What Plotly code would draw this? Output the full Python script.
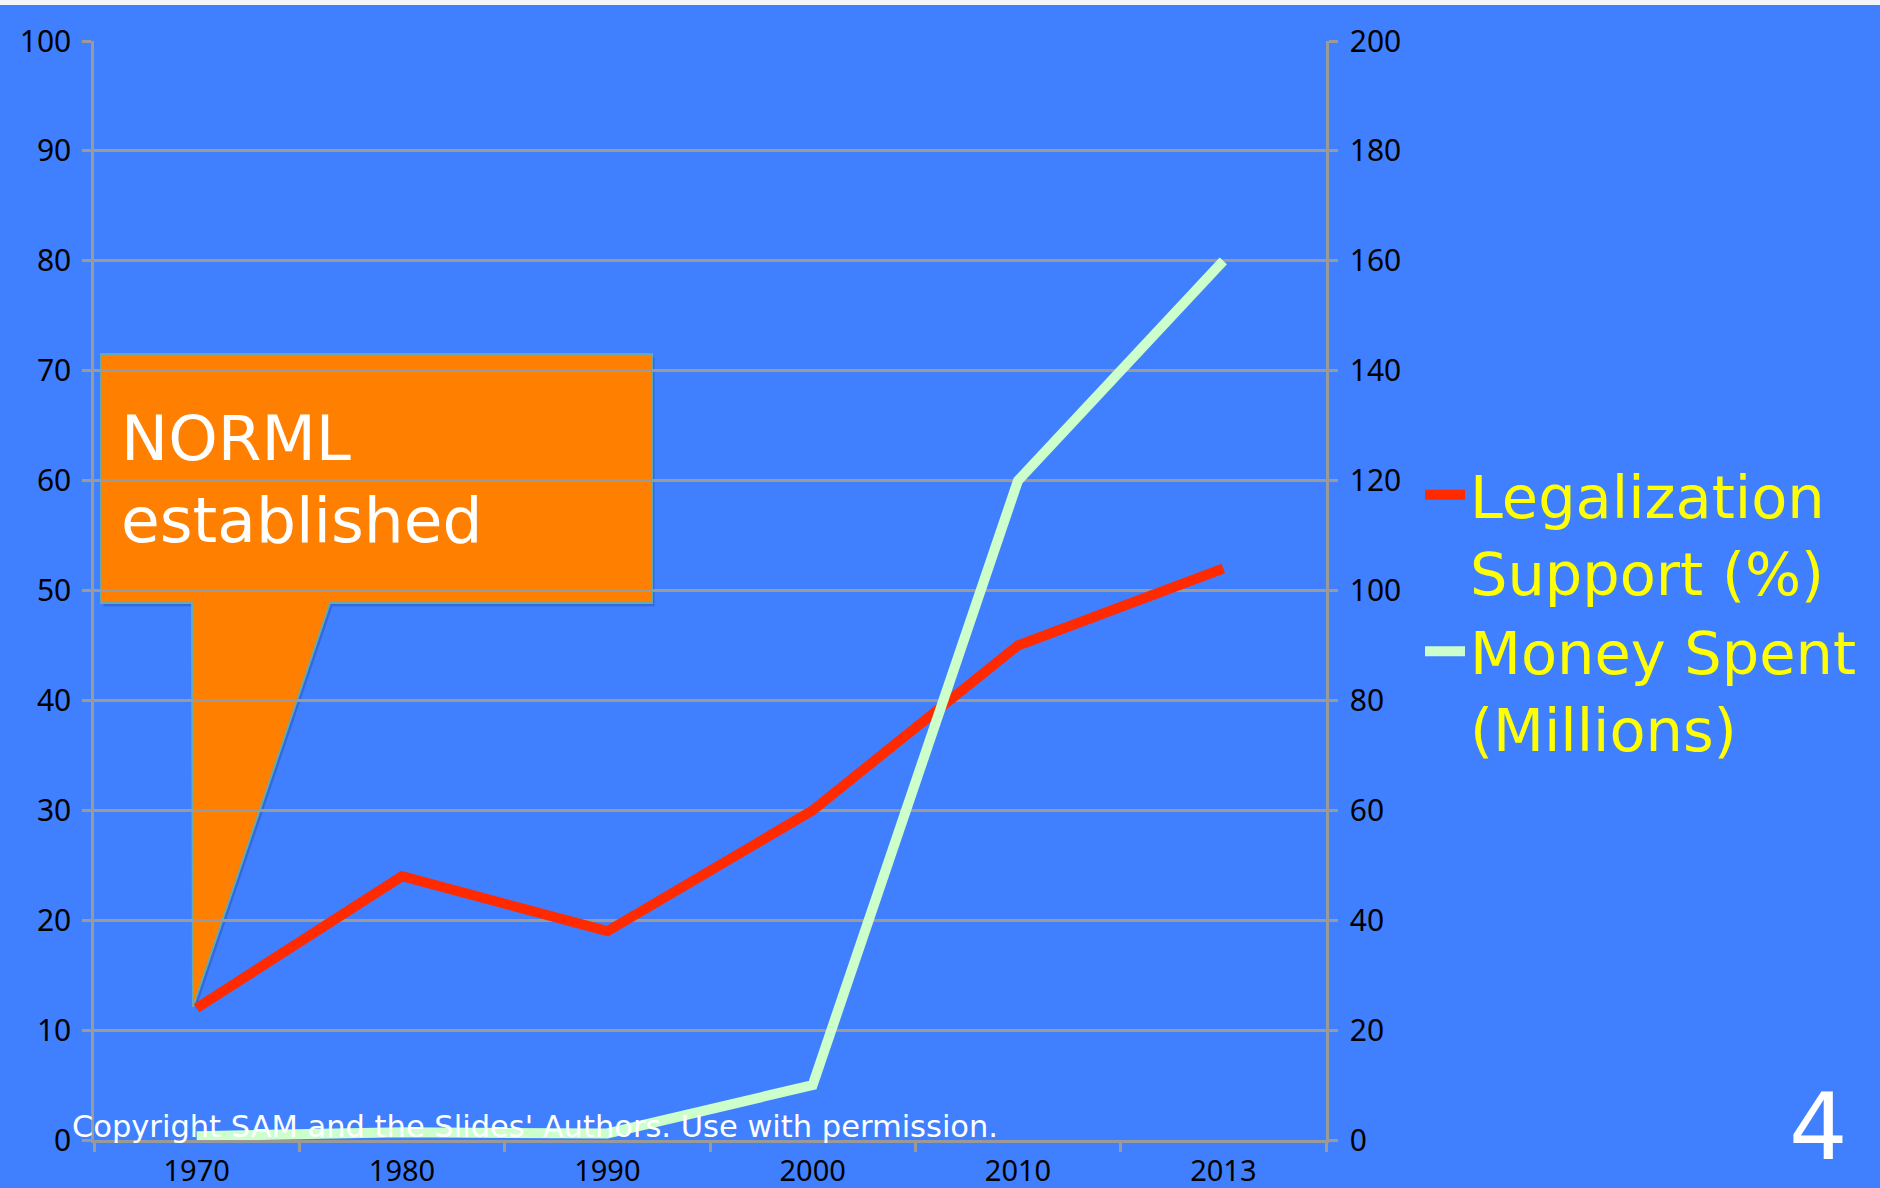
import plotly.graph_objects as go

years = ["1970", "1980", "1990", "2000", "2010", "2013"]
support_pct = [12, 24, 19, 30, 45, 52]
money_millions = [0.7, 1.4, 1.2, 10, 120, 160]
left_ticks = [0, 10, 20, 30, 40, 50, 60, 70, 80, 90, 100]
right_ticks = [0, 20, 40, 60, 80, 100, 120, 140, 160, 180, 200]

BG = "#4080FF"
GRID = "#9A9A9A"
FONT = "Noto Sans"
TFONT = "DejaVu Sans"

fig = go.Figure()
fig.add_trace(go.Scatter(
    x=years, y=support_pct, mode="lines", name="Legalization<br>Support (%)",
    line=dict(color="#FF2A00", width=10), yaxis="y"))
fig.add_trace(go.Scatter(
    x=years, y=money_millions, mode="lines", name="Money Spent<br>(Millions)",
    line=dict(color="#CCFFCC", width=10), yaxis="y2"))

W, H = 1880, 1188
L, R, T, B = 94, 554, 41, 48
pw, ph = W - L - R, H - T - B


def px(x):
    return (x - L) / pw


def py(y):
    return (H - B - y) / ph


# callout (speech bubble)
x0, x1 = px(101), px(652)
yt, yb = py(354), py(603)
pl, pr = px(192), px(330)
tipx, tipy = px(193), py(1007)
path = (f"M {x0},{yt} L {x1},{yt} L {x1},{yb} L {pr},{yb} L {tipx},{tipy} "
        f"L {pl},{yb} L {x0},{yb} Z")
dx, dy = 0.002, 0.003
shadow = (f"M {x0+dx},{yt-dy} L {x1+dx},{yt-dy} L {x1+dx},{yb-dy} "
          f"L {pr+dx},{yb-dy} L {tipx+dx},{tipy-dy} L {pl+dx},{yb-dy} "
          f"L {x0+dx},{yb-dy} Z")

shapes = [
    dict(type="path", xref="paper", yref="paper", path=shadow,
         fillcolor="rgba(0,0,60,0.18)", line=dict(width=0), layer="between"),
    dict(type="path", xref="paper", yref="paper", path=path,
         fillcolor="#FF7F00", line=dict(color="#66AAB0", width=2), layer="between"),
    dict(type="rect", xref="paper", yref="paper", x0=px(-10), x1=px(W + 10),
         y0=py(5), y1=py(-10), fillcolor="#F2F5FA", line=dict(width=0), layer="above"),
]

annotations = [
    dict(text="NORML<br>established", xref="paper", yref="paper",
         x=px(119), y=py(400), xanchor="left", yanchor="top", align="left",
         showarrow=False, font=dict(family=TFONT, size=63, color="white")),
    dict(text="Copyright SAM and the Slides' Authors. Use with permission.",
         xref="paper", yref="paper", x=px(70), y=py(1146), xanchor="left",
         yanchor="bottom", showarrow=False,
         font=dict(family=TFONT, size=30.5, color="white")),
    dict(text="4", xref="paper", yref="paper", x=px(1818), y=py(1127),
         xanchor="center", yanchor="middle", showarrow=False,
         font=dict(family=TFONT, size=92, color="white")),
]

axis_common = dict(showline=True, linecolor=GRID, linewidth=2.5,
                   ticks="outside", ticklen=9, tickcolor=GRID, tickwidth=2.5,
                   zeroline=False, automargin=False)

fig.update_layout(
    width=W, height=H,
    paper_bgcolor=BG, plot_bgcolor=BG,
    margin=dict(l=L, r=R, t=T, b=B),
    font=dict(family=FONT, color="black"),
    xaxis=dict(type="category", range=[-0.5, 5.5], showgrid=False,
               tickson="boundaries", ticklabelstandoff=3,
               tickfont=dict(size=29, color="black"), **axis_common),
    yaxis=dict(range=[0, 100], tickvals=left_ticks, showgrid=True,
               gridcolor=GRID, gridwidth=2.5,
               tickfont=dict(size=30, color="black"),
               ticklabelstandoff=5, **axis_common),
    yaxis2=dict(range=[0, 200], tickvals=right_ticks, overlaying="y",
                side="right", showgrid=False,
                tickfont=dict(size=30, color="black"),
                ticklabelstandoff=6, **axis_common),
    legend=dict(x=px(1420), y=py(450), xanchor="left", yanchor="top",
                bgcolor="rgba(0,0,0,0)", valign="top",
                font=dict(family=TFONT, size=59, color="#FFFF00"),
                itemwidth=40, tracegroupgap=0),
    showlegend=True,
    shapes=shapes,
    annotations=annotations,
)

fig.write_html("out.html", config={"displayModeBar": False},
               post_script="document.body.style.margin='0px';")
